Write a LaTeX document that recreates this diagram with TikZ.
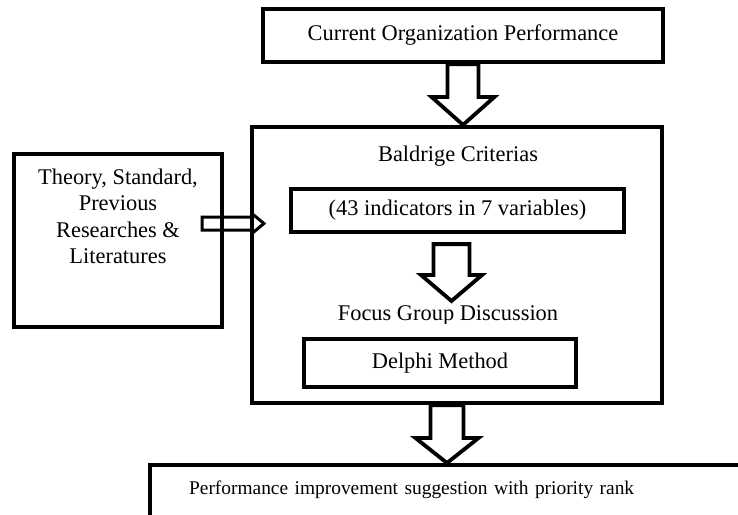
\documentclass[tikz,border=0pt]{standalone}
\usepackage{fontspec}
\setmainfont{Liberation Serif}
\usetikzlibrary{positioning,calc}
\tikzset{box/.style={draw,line width=4.2pt,inner sep=0pt},
  txt/.style={inner sep=0pt,align=center,font=\fontsize{22.4}{26.3}\selectfont},
  fat/.style={draw,fill=white,line width=3.8pt}}
% hollow block arrows: x from the start point, y from both ends
\newcommand\fatdown[5]{\draw[fat] let \p1=(#1),\p2=(#2) in (\x1-#3pt,\y1)--(\x1-#3pt,\y2+#5pt)--(\x1-#4pt,\y2+#5pt)--(\x1,\y2)--(\x1+#4pt,\y2+#5pt)--(\x1+#3pt,\y2+#5pt)--(\x1+#3pt,\y1)--cycle;}
\newcommand\fatright[5]{\draw[fat,fill=none,line width=3pt] let \p1=(#1),\p2=(#2) in (\x1,\y1+#3pt)--(\x2-#5pt,\y1+#3pt)--(\x2-#5pt,\y1+#4pt)--(\x2,\y1)--(\x2-#5pt,\y1-#4pt)--(\x2-#5pt,\y1-#3pt)--(\x1,\y1-#3pt)--cycle;}
\begin{document}
\begin{tikzpicture}[x=1pt,y=-1pt]
\useasboundingbox (0,0) rectangle (738,514);
\node[box,txt,minimum width=400pt,minimum height=53pt] (cur) at (463,35.5){Current Organization Performance};
\node[box,minimum width=410pt,minimum height=276pt] (bal) at (457,265){};
\node[txt] (balt) at (458,156){Baldrige Criterias};
\node[box,txt,minimum width=333pt,minimum height=43pt] (ind) at (457.5,210.5){(43 indicators in 7 variables)};
\begin{scope}\clip (300,295) rectangle (600,323.5);\node[txt] (foct) at (448,315){Focus Group Discussion};\end{scope}
\node[box,txt,minimum width=272pt,minimum height=48pt] (del) at (440,363){Delphi Method};
\node[box,minimum width=208pt,minimum height=173pt] (lit) at (118,240.5){};
\node[txt,below=17pt of lit.north] (litt){Theory, Standard,\\Previous\\Researches \&\\Literatures};
\node[box,anchor=north west,align=left,text width=600pt,inner xsep=39pt,inner ysep=0pt,text height=29pt,text depth=40pt,font=\fontsize{19.4}{24}\selectfont] (sug) at (148,463){Performance improvement suggestion with priority rank};
\fatdown{cur.south}{bal.north}{15.5}{31.5}{28}
\fatdown{$(ind.south)+(-6,10)$}{$(foct.north)+(0,-4)$}{18}{30.5}{26}
\fatdown{$(bal.south)+(-10,0)$}{sug.north}{16.5}{31.5}{25}
\fatright{$(lit.east)+(-22,-17)$}{$(bal.west)+(14,0)$}{6.5}{10}{12}
\end{tikzpicture}
\end{document}
